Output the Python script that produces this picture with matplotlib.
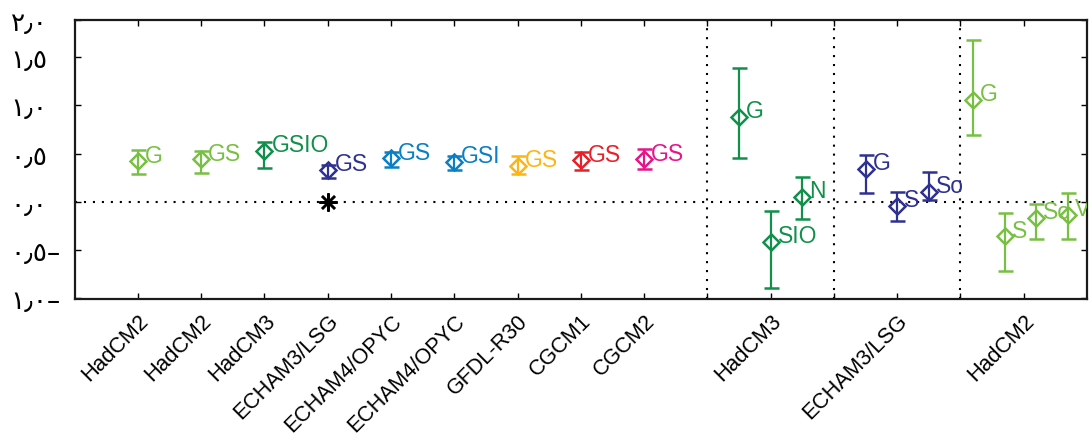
import matplotlib
matplotlib.use("Agg")
import matplotlib.pyplot as plt

# ---------------- data ----------------
main_models = ["HadCM2", "HadCM2", "HadCM3", "ECHAM3/LSG", "ECHAM4/OPYC",
               "ECHAM4/OPYC", "GFDL-R30", "CGCM1", "CGCM2"]
main_codes = ["G", "GS", "GSIO", "GS", "GS", "GSI", "GS", "GS", "GS"]
main_values = [0.42, 0.44, 0.525, 0.33, 0.45, 0.415, 0.37, 0.43, 0.44]
main_upper = [0.54, 0.53, 0.62, 0.38, 0.52, 0.48, 0.47, 0.515, 0.55]
main_lower = [0.29, 0.30, 0.35, 0.25, 0.36, 0.33, 0.29, 0.33, 0.335]
main_colors = ["#78c043", "#78c043", "#10904a", "#2e3192", "#0b7fc3",
               "#0b7fc3", "#fdb515", "#e8202a", "#e6158b"]

star_x = 4
star_value = 0.0

group_models = ["HadCM3", "ECHAM3/LSG", "HadCM2"]
group_label_x = [11, 13, 15]
group_colors = ["#10904a", "#2e3192", "#78c043"]
group_x = [[10.5, 11.0, 11.5], [12.5, 13.0, 13.5], [14.2, 14.7, 15.2, 15.7]]
group_codes = [["G", "SIO", "N"], ["G", "S", "So"], ["G", "S", "So", "V"]]
group_values = [[0.88, -0.42, 0.05], [0.34, -0.045, 0.10], [1.06, -0.36, -0.17, -0.135]]
group_upper = [[1.39, -0.10, 0.26], [0.49, 0.10, 0.31], [1.68, -0.12, -0.02, 0.086]]
group_lower = [[0.45, -0.90, -0.18], [0.09, -0.20, 0.017], [0.69, -0.72, -0.39, -0.39]]

separators = [10, 12, 14]

ytick_values = [-1.0, -0.5, 0.0, 0.5, 1.0, 1.5, 1.89]
ytick_labels = ["١٫٠–", "٠٫٥–", "٠٫٠", "٠٫٥", "١٫٠", "١٫٥", "٢٫٠"]

# ---------------- figure ----------------
plt.rcParams["font.family"] = ["Liberation Sans", "DejaVu Sans"]
fig = plt.figure(figsize=(10.92, 4.35), dpi=100)
ax = fig.add_axes([0.0684, 0.3103, 0.927, 0.642])

DOT = (0, (1, 3.3))


def draw_point(x, v, lo, hi, color, code):
    ax.errorbar([x], [v], yerr=[[v - lo], [hi - v]], fmt="D", color=color,
                mfc="none", mec=color, ms=8.3, mew=1.8, elinewidth=1.6,
                capsize=5.4, capthick=1.6, zorder=3)
    ax.annotate(code, (x, v), xytext=(5.0, 4.5), textcoords="offset points",
                ha="left", va="center", color=color, fontsize=16.5,
                clip_on=True, zorder=4)


# zero line and separators
ax.axhline(0, color="black", lw=1.5, ls=DOT, zorder=1)
for s in separators:
    ax.axvline(s, color="black", lw=1.5, ls=DOT, zorder=1)

for i in range(len(main_models)):
    draw_point(i + 1, main_values[i], main_lower[i], main_upper[i],
               main_colors[i], main_codes[i])

ax.plot([star_x], [star_value], marker=(8, 2, 0), color="black", ms=13,
        mew=1.8, zorder=4)

for g in range(len(group_models)):
    for j in range(len(group_x[g])):
        draw_point(group_x[g][j], group_values[g][j], group_lower[g][j],
                   group_upper[g][j], group_colors[g], group_codes[g][j])

ax.set_xlim(0, 16)
ax.set_ylim(-1.01, 1.89)

# x ticks
xt = list(range(1, 16))
xl = [""] * 15
for i, m in enumerate(main_models):
    xl[i] = m
for gx, m in zip(group_label_x, group_models):
    xl[gx - 1] = m
ax.set_xticks(xt)
ax.set_xticklabels(xl, rotation=45, ha="right", rotation_mode="anchor",
                   fontsize=15.5)

ax.set_yticks(ytick_values)
ax.set_yticklabels(ytick_labels, family=["DejaVu Sans"], fontsize=19, ha="left")

ax.tick_params(axis="both", direction="in", length=4, width=1.0,
               top=True, right=True, color="black")
ax.tick_params(axis="x", pad=8)
ax.tick_params(axis="y", pad=46)

for sp in ax.spines.values():
    sp.set_linewidth(1.6)
    sp.set_color("#1a1a1a")

fig.savefig("out.png", dpi=100)
